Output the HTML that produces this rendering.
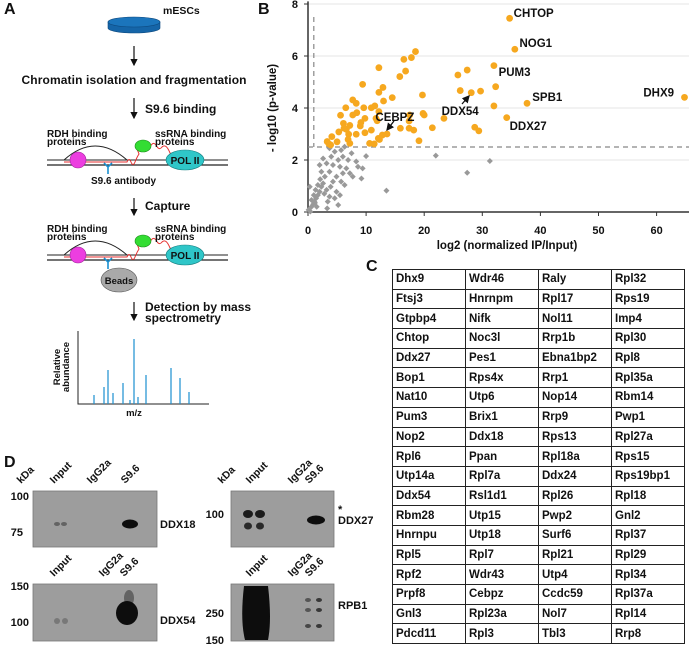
<!DOCTYPE html>
<html><head><meta charset="utf-8">
<style>
html,body{margin:0;padding:0;background:#fff;}
body{width:689px;height:645px;overflow:hidden;position:relative;font-family:"Liberation Sans",sans-serif;}
svg text{font-family:"Liberation Sans",sans-serif;font-weight:bold;fill:#111;}
#tbl{position:absolute;left:392px;top:269px;border-collapse:collapse;font:bold 11.5px "Liberation Sans",sans-serif;color:#111;}
#tbl td{border:1px solid #222;width:73px;height:19.7px;padding:0 0 0 3px;box-sizing:border-box;}
</style></head><body>
<svg id="fig" width="689" height="645" viewBox="0 0 689 645" style="position:absolute;left:0;top:0">
<defs>
<marker id="ah" markerWidth="6" markerHeight="6" refX="5" refY="3" orient="auto"><path d="M0,0 L6,3 L0,6 z" fill="#111"/></marker>
</defs>
<g>
<text x="4" y="14" font-size="16">A</text>
<g>
<path d="M108,22 L108,28 A26,5 0 0 0 160,28 L160,22 Z" fill="#1565a8" stroke="#0d4a80" stroke-width="0.6"/>
<ellipse cx="134" cy="22" rx="26" ry="5" fill="#1b75bc" stroke="#0d4a80" stroke-width="0.6"/>
</g>
<text x="163" y="14" font-size="10.5">mESCs</text>
<line x1="134" y1="46" x2="134" y2="65" stroke="#111" stroke-width="1.2" marker-end="url(#ah)"/>
<text x="134" y="84" font-size="12" text-anchor="middle" textLength="225">Chromatin isolation and fragmentation</text>
<line x1="134" y1="98" x2="134" y2="118" stroke="#111" stroke-width="1.2" marker-end="url(#ah)"/>
<text x="145" y="113" font-size="12">S9.6 binding</text>
<g id="diag1"></g>
<text x="47" y="137" font-size="10">RDH binding</text>
<text x="47" y="145" font-size="10">proteins</text>
<text x="155" y="137" font-size="10">ssRNA binding</text>
<text x="155" y="145" font-size="10">proteins</text>
<text x="91" y="184" font-size="10">S9.6 antibody</text>
<line x1="134" y1="198" x2="134" y2="215" stroke="#111" stroke-width="1.2" marker-end="url(#ah)"/>
<text x="145" y="210" font-size="12">Capture</text>
<g id="diag2"></g>
<text x="47" y="232" font-size="10">RDH binding</text>
<text x="47" y="240" font-size="10">proteins</text>
<text x="155" y="232" font-size="10">ssRNA binding</text>
<text x="155" y="240" font-size="10">proteins</text>
<ellipse cx="119" cy="280" rx="18" ry="12" fill="#a9a9a9" stroke="#555" stroke-width="0.6"/>
<text x="119" y="284" font-size="9.5" text-anchor="middle">Beads</text>
<line x1="134" y1="302" x2="134" y2="320" stroke="#111" stroke-width="1.2" marker-end="url(#ah)"/>
<text x="145" y="311" font-size="12">Detection by mass</text>
<text x="145" y="322" font-size="12">spectrometry</text>
<g id="spec"></g>
<text transform="translate(60,367) rotate(-90)" font-size="9.5" text-anchor="middle">Relative</text>
<text transform="translate(69,367) rotate(-90)" font-size="9.5" text-anchor="middle">abundance</text>
<text x="134" y="416" font-size="9.5" text-anchor="middle">m/z</text>
</g>
<g>
<text x="258" y="14" font-size="16">B</text>
<g id="scatter"></g>
<text transform="translate(276,108) rotate(-90)" font-size="11.5" text-anchor="middle">- log10 (p-value)</text>
<text x="507" y="249" font-size="11.5" text-anchor="middle">log2 (normalized IP/Input)</text>
</g>
<text x="366" y="271" font-size="16">C</text>
<g id="pd">
<text x="4" y="467" font-size="16">D</text>
</g>
</svg>
<table id="tbl"></table>
<script>
var NS='http://www.w3.org/2000/svg';
function mk(p,t,a,txt){var e=document.createElementNS(NS,t);for(var k in a)e.setAttribute(k,a[k]);if(txt!==undefined)e.textContent=txt;p.appendChild(e);return e;}

var sigX=[34.7,35.6,32.0,32.3,32.0,37.7,34.2,64.8,25.8,27.4,26.2,28.1,29.7,23.4,28.7,29.4,18.5,17.8,16.5,16.8,15.8,12.2,9.4,12.9,12.2,14.5,19.7,13.0,7.7,8.3,6.5,9.6,10.9,11.5,12.2,5.6,7.7,8.4,9.8,11.7,11.9,9.1,6.1,7.2,9.0,17.5,17.4,15.9,17.4,18.2,19.8,20.0,21.4,19.1,5.3,6.6,7.0,8.3,9.8,10.9,4.1,6.9,7.2,3.3,3.6,10.6,11.4,12.1,12.8,12.3,6.2,13.6,3.9,5.0];
var sigY=[7.45,6.26,5.63,4.82,4.08,4.18,3.63,4.41,5.27,5.46,4.67,4.59,4.65,3.60,3.26,3.12,6.17,5.94,5.87,5.42,5.21,5.55,4.91,4.79,4.60,4.40,4.50,4.27,4.31,4.18,4.01,4.01,4.01,4.08,3.86,3.72,3.73,3.82,3.60,3.60,3.51,3.44,3.41,3.33,3.31,3.73,3.50,3.22,3.22,3.15,3.79,3.73,3.24,2.74,3.08,3.18,2.99,2.99,3.05,3.15,2.90,2.79,2.64,2.71,2.62,2.64,2.62,2.83,2.96,2.79,3.22,3.00,2.58,2.70];
var nsX=[0.1,0.6,0.9,1.1,1.4,1.0,1.7,2.0,1.3,2.3,2.6,1.7,3.2,3.7,3.4,4.6,5.5,4.9,3.9,4.3,2.9,2.3,3.7,4.9,5.7,6.3,6.0,6.6,5.5,4.3,3.2,2.0,2.6,4.0,5.2,6.0,6.9,7.5,5.7,4.6,3.7,6.3,8.3,8.6,9.4,9.2,10.0,7.2,7.7,13.5,22.0,27.4,31.3,0.6,0.3,2.1,3.3,5.2,1.5,2.8,0.4,1.2];
var nsY=[0.08,0.20,0.30,0.40,0.53,0.65,0.65,0.78,0.85,0.97,1.10,1.04,0.85,0.59,0.40,0.53,0.65,0.78,0.97,1.17,1.36,1.55,1.55,1.36,1.17,1.04,1.49,1.68,1.74,1.81,1.87,1.81,2.06,2.13,2.00,2.13,2.00,2.26,2.38,2.32,2.45,2.51,1.94,1.74,1.68,1.29,2.15,1.49,1.36,0.82,2.17,1.51,1.96,0.46,0.97,1.26,0.14,0.27,0.20,0.70,0.02,0.35];
var xTicks=[0,10,20,30,40,50,60];
var yTicks=[0,2,4,6,8];
var labelNames=['CHTOP','NOG1','PUM3','SPB1','DDX27','DHX9','DDX54','CEBPZ'];
var labelX=[35.4,36.4,32.8,38.6,34.7,63.0,23.0,11.6];
var labelY=[7.65,6.5,5.38,4.42,3.3,4.6,3.88,3.65];
var labelAnchor=['start','start','start','start','start','end','start','start'];

var X0=308,XS=5.81,Y0=212,YS=26.0;
function sx(v){return X0+v*XS;}
function sy(v){return Y0-v*YS;}
var sc=document.getElementById('scatter');
yTicks.forEach(function(t){
  if(t>0){var g=mk(sc,'line',{x1:X0,x2:689,y1:sy(t),y2:sy(t),stroke:'#e6e6e6','stroke-width':1});
  
  }
  var tx=mk(sc,'text',{x:X0-10,y:sy(t)+4,'font-size':11,'text-anchor':'end'},String(t));
  
  
  mk(sc,'line',{x1:X0-4,x2:X0,y1:sy(t),y2:sy(t),stroke:'#333','stroke-width':1});
});
xTicks.forEach(function(t){
  var tx=mk(sc,'text',{x:sx(t),y:234,'font-size':11,'text-anchor':'middle'},String(t));
  
  
  mk(sc,'line',{x1:sx(t),x2:sx(t),y1:Y0,y2:Y0+4,stroke:'#333','stroke-width':1});
});
var ya=mk(sc,'line',{x1:X0,x2:X0,y1:sy(8.1),y2:Y0,stroke:'#333','stroke-width':1.5});


var xa=mk(sc,'line',{x1:X0,x2:689,y1:Y0,y2:Y0,stroke:'#333','stroke-width':1.5});


var th1=mk(sc,'line',{x1:X0,x2:689,y1:sy(2.5),y2:sy(2.5),stroke:'#888','stroke-width':1.2,'stroke-dasharray':'5,4'});


var th2=mk(sc,'line',{x1:sx(1),x2:sx(1),y1:sy(7.5),y2:sy(2.5),stroke:'#888','stroke-width':1.2,'stroke-dasharray':'5,4'});


nsX.forEach(function(v,i){
  var x=sx(v),y=sy(nsY[i]);
  var d=mk(sc,'path',{d:'M'+x+','+(y-3)+' L'+(x+3)+','+y+' L'+x+','+(y+3)+' L'+(x-3)+','+y+' Z',fill:'#999'});
  
  
});
sigX.forEach(function(v,i){
  var c=mk(sc,'circle',{cx:sx(v),cy:sy(sigY[i]),r:3.4,fill:'#f6a81f'});
  
  
});
labelNames.forEach(function(n,i){
  var t=mk(sc,'text',{x:sx(labelX[i]),y:sy(labelY[i])+4,'font-size':11.5,'text-anchor':labelAnchor[i]},n);
  
  
});
var a1=mk(sc,'line',{x1:394,y1:121,x2:387,y2:130,stroke:'#111','stroke-width':1.3,'marker-end':'url(#ah)'});


var a2=mk(sc,'line',{x1:462,y1:104,x2:469,y2:96,stroke:'#111','stroke-width':1.3,'marker-end':'url(#ah)'});



function diagram(g,dy){
  mk(g,'line',{x1:47,x2:228,y1:160+dy,y2:160+dy,stroke:'#222','stroke-width':1});
  mk(g,'line',{x1:47,x2:228,y1:165+dy,y2:165+dy,stroke:'#222','stroke-width':1.2});
  mk(g,'path',{d:'M64,'+(160+dy)+' Q95,'+(132+dy)+' 127,'+(160+dy),fill:'none',stroke:'#222','stroke-width':1});
  mk(g,'path',{d:'M64,'+(162+dy)+' L127,'+(162+dy)+' q2,-5 4,0 q2,5 4,0 q2,-5 4,-8 L137,'+(149+dy),fill:'none',stroke:'#e53030','stroke-width':1});
  mk(g,'path',{d:'M150,'+(147+dy)+' q3,-6 6,-2 q3,6 6,2 q4,-4 8,6 L176,'+(156+dy),fill:'none',stroke:'#e53030','stroke-width':1});
  mk(g,'circle',{cx:78,cy:160+dy,r:8,fill:'#ec3ee0',stroke:'#a0209a','stroke-width':0.6});
  mk(g,'ellipse',{cx:143,cy:146+dy,rx:8,ry:6,fill:'#33dd33',stroke:'#1a8a1a','stroke-width':0.6});
  mk(g,'ellipse',{cx:185,cy:160+dy,rx:19,ry:10,fill:'#2fc6c8',stroke:'#167f80','stroke-width':0.6});
  mk(g,'text',{x:185,y:164+dy,'font-size':10,'text-anchor':'middle'},'POL II');
  var by=163+dy;
  mk(g,'path',{d:'M104,'+by+' L108,'+(by+4)+' L112,'+by+' M108,'+(by+4)+' L108,'+(by+11),fill:'none',stroke:'#1a8fd0','stroke-width':1.6});
}
diagram(document.getElementById('diag1'),0);
diagram(document.getElementById('diag2'),95);

var specPos=[94,104,108,113,123,130,134,138,146,171,180,189];
var specH=[9,17,34,11,21,4,65,7,29,36,26,12];
var sp=document.getElementById('spec');
mk(sp,'polyline',{points:'78,331 78,404 209,404',fill:'none',stroke:'#222','stroke-width':1});
specPos.forEach(function(x,i){
  var l=mk(sp,'line',{x1:x,x2:x,y1:404,y2:404-specH[i],stroke:'#1a8fd0','stroke-width':1.2});
  
  
});

var pd=document.getElementById('pd');
function rot(x,y,t){var e=mk(pd,'text',{transform:'translate('+x+','+y+') rotate(-45)','font-size':10.5},t);return e;}
var blots=[{x:33,y:491,w:124,h:56,name:'ddx18'},{x:231,y:491,w:103,h:56,name:'ddx27'},{x:33,y:584,w:124,h:57,name:'ddx54'},{x:231,y:584,w:103,h:57,name:'rpb1'}];
blots.forEach(function(b){
  var r=mk(pd,'rect',{x:b.x,y:b.y,width:b.w,height:b.h,fill:'#9d9d9d',stroke:'#777','stroke-width':0.8});
  
  
});
rot(21,484,'kDa');rot(54,484,'Input');rot(91,484,'IgG2a');rot(125,484,'S9.6');
rot(222,484,'kDa');rot(250,484,'Input');rot(292,484,'IgG2a');rot(309,484,'S9.6');
rot(54,577,'Input');rot(103,577,'IgG2a');rot(124,577,'S9.6');
rot(250,577,'Input');rot(292,577,'IgG2a');rot(309,577,'S9.6');
function t(x,y,s,a){mk(pd,'text',{x:x,y:y,'font-size':11,'text-anchor':a||'start'},s);}
t(29,500,'100','end');t(23,536,'75','end');t(160,528,'DDX18');
t(224,518,'100','end');t(338,524,'DDX27');t(338,513,'*');
t(29,590,'150','end');t(29,626,'100','end');t(160,624,'DDX54');
t(224,617,'250','end');t(224,644,'150','end');t(338,609,'RPB1');
function band(cx,cy,rx,ry,op){mk(pd,'ellipse',{cx:cx,cy:cy,rx:rx,ry:ry,fill:'#0d0d0d','fill-opacity':op});}
band(57,524,3,2,0.4);band(64,524,3,2,0.4);band(130,524,8,4.5,1);
band(248,514,5,4,0.9);band(260,514,5,4,0.9);band(248,526,4,3.5,0.8);band(260,526,4,3.5,0.8);band(316,520,9,4.5,1);
band(57,621,3,3,0.25);band(65,621,3,3,0.25);band(127,613,11,12,1);band(129,598,5,8,0.4);
mk(pd,'path',{d:'M244,586 L268,586 Q272,620 268,640 L245,640 Q240,620 244,586 Z',fill:'#0d0d0d'});
band(308,600,3,2,0.5);band(319,600,3,2,0.7);band(308,610,3,2,0.5);band(319,610,3,2,0.7);band(308,626,3,2,0.6);band(319,626,3,2,0.7);

var rows=[['Dhx9','Wdr46','Raly','Rpl32'],['Ftsj3','Hnrnpm','Rpl17','Rps19'],['Gtpbp4','Nifk','Nol11','Imp4'],['Chtop','Noc3l','Rrp1b','Rpl30'],['Ddx27','Pes1','Ebna1bp2','Rpl8'],['Bop1','Rps4x','Rrp1','Rpl35a'],['Nat10','Utp6','Nop14','Rbm14'],['Pum3','Brix1','Rrp9','Pwp1'],['Nop2','Ddx18','Rps13','Rpl27a'],['Rpl6','Ppan','Rpl18a','Rps15'],['Utp14a','Rpl7a','Ddx24','Rps19bp1'],['Ddx54','Rsl1d1','Rpl26','Rpl18'],['Rbm28','Utp15','Pwp2','Gnl2'],['Hnrnpu','Utp18','Surf6','Rpl37'],['Rpl5','Rpl7','Rpl21','Rpl29'],['Rpf2','Wdr43','Utp4','Rpl34'],['Prpf8','Cebpz','Ccdc59','Rpl37a'],['Gnl3','Rpl23a','Nol7','Rpl14'],['Pdcd11','Rpl3','Tbl3','Rrp8']];
var tb=document.getElementById('tbl');
rows.forEach(function(r){var tr=document.createElement('tr');r.forEach(function(c){var td=document.createElement('td');td.textContent=c;


tr.appendChild(td);});tb.appendChild(tr);});
</script>
</body></html>
